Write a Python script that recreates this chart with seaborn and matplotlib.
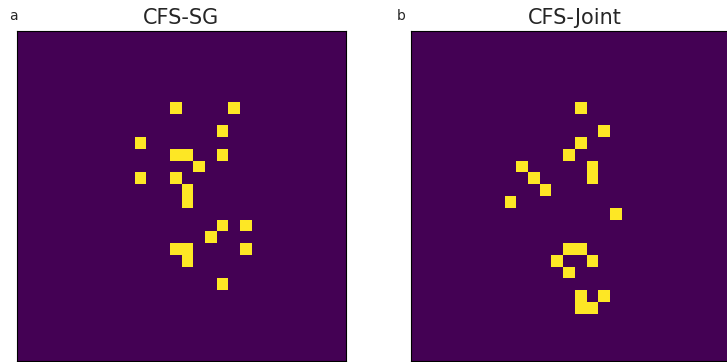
import numpy as np
import matplotlib
matplotlib.use("Agg")
import matplotlib.pyplot as plt
import seaborn as sns

sns.set_style("white")
plt.rcParams["font.family"] = ["DejaVu Sans"]

GRID = 28
titles = ["CFS-SG", "CFS-Joint"]
panel_labels = ["a", "b"]

# selected pixels (row, col) for each method
cfs_sg_rows = [6, 6, 8, 9, 10, 10, 10, 11, 12, 12, 13, 14, 16, 16, 17, 18, 18, 18, 19, 21]
cfs_sg_cols = [13, 18, 17, 10, 13, 14, 17, 15, 10, 13, 14, 14, 17, 19, 16, 13, 14, 19, 14, 17]

cfs_joint_rows = [6, 8, 9, 10, 11, 12, 11, 12, 13, 14, 15, 18, 18, 19, 19, 20, 22, 23, 23, 22]
cfs_joint_cols = [14, 16, 14, 13, 15, 15, 9, 10, 11, 8, 17, 13, 14, 12, 15, 13, 14, 14, 15, 16]


def mask_from(rows, cols):
    m = np.zeros((GRID, GRID))
    m[rows, cols] = 1.0
    return m


masks = [mask_from(cfs_sg_rows, cfs_sg_cols), mask_from(cfs_joint_rows, cfs_joint_cols)]

W, H = 727, 362
fig = plt.figure(figsize=(W / 100, H / 100), dpi=100)

axes_px = [(17.3, 31.3, 328.4, 329.4), (410.7, 31.3, 328.4, 329.4)]
label_x_px = [9.0, 397.0]
for (x0, y0, w, h), m, title, lab, lx in zip(axes_px, masks, titles, panel_labels, label_x_px):
    ax = fig.add_axes([x0 / W, 1 - (y0 + h) / H, w / W, h / H])
    sns.heatmap(m, ax=ax, cmap="viridis", vmin=0, vmax=1, cbar=False,
                xticklabels=False, yticklabels=False, square=False)
    for s in ax.spines.values():
        s.set_visible(True)
        s.set_color("black")
        s.set_linewidth(0.8)
    ax.set_title(title, fontsize=15, pad=5)
    fig.text(lx / W, 1 - 19.5 / H, lab, fontsize=10, ha="left", va="baseline")

fig.savefig("out.png", dpi=100)
